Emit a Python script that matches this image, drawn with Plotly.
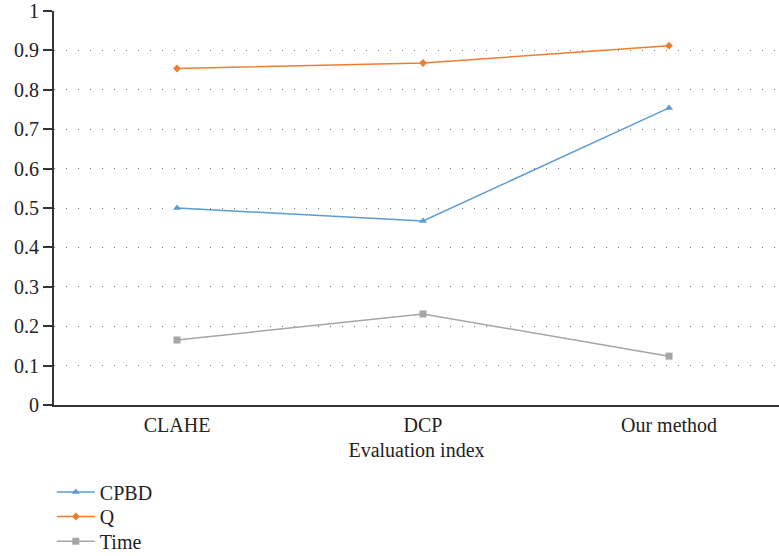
import plotly.graph_objects as go

# Evaluation results per method
methods = ["CLAHE", "DCP", "Our method"]
cpbd = [0.500, 0.467, 0.754]
q_score = [0.854, 0.868, 0.912]
time_s = [0.165, 0.231, 0.124]

y_ticks = [0, 0.1, 0.2, 0.3, 0.4, 0.5, 0.6, 0.7, 0.8, 0.9, 1]
y_tick_text = ["0", "0.1", "0.2", "0.3", "0.4", "0.5", "0.6", "0.7", "0.8", "0.9", "1"]

font_family = "Liberation Serif"
text_color = "#222222"

# name, values, colour, marker symbol, marker size, legend id, legend row y (paper)
series = [
    ("CPBD", cpbd, "#5B9BD5", "triangle-up", 7, "legend", -0.221),
    ("Q", q_score, "#ED7D31", "diamond", 6, "legend2", -0.283),
    ("Time", time_s, "#A5A5A5", "square", 7, "legend3", -0.346),
]

fig = go.Figure()
legend_layout = {}
for name, vals, color, symbol, size, leg, leg_y in series:
    fig.add_trace(go.Scatter(
        x=methods, y=vals, name=name, mode="lines+markers",
        line=dict(color=color, width=1.5),
        marker=dict(symbol=symbol, size=size, color=color),
        legend=leg,
    ))
    legend_layout[leg] = dict(
        orientation="v", x=-0.003, xanchor="left", y=leg_y, yanchor="middle",
        font=dict(family=font_family, size=20, color=text_color),
        itemwidth=38, bgcolor="rgba(0,0,0,0)",
    )

fig.update_layout(
    width=779, height=556,
    margin=dict(l=54, r=0, t=11, b=151, autoexpand=False),
    paper_bgcolor="white", plot_bgcolor="white",
    font=dict(family=font_family, size=20, color=text_color),
    showlegend=True,
    xaxis=dict(
        type="category", range=[-0.5, 2.447], automargin=False,
        showline=True, linecolor="#333333", linewidth=2,
        showgrid=False, ticks="",
        tickfont=dict(family=font_family, size=20, color=text_color),
        ticklabelstandoff=1,
        title=dict(text="Evaluation index", standoff=8,
                   font=dict(family=font_family, size=20, color=text_color)),
        zeroline=False,
    ),
    yaxis=dict(
        range=[0, 1], tickvals=y_ticks, ticktext=y_tick_text, automargin=False,
        showline=True, linecolor="#333333", linewidth=2,
        ticks="outside", ticklen=9, tickwidth=2, tickcolor="#333333",
        showgrid=True, gridcolor="#777777", gridwidth=1.3, griddash="1px,11px",
        zeroline=False, ticklabeloverflow="allow",
        tickfont=dict(family=font_family, size=20, color=text_color),
    ),
    **legend_layout,
)

fig.write_html("out.html")
